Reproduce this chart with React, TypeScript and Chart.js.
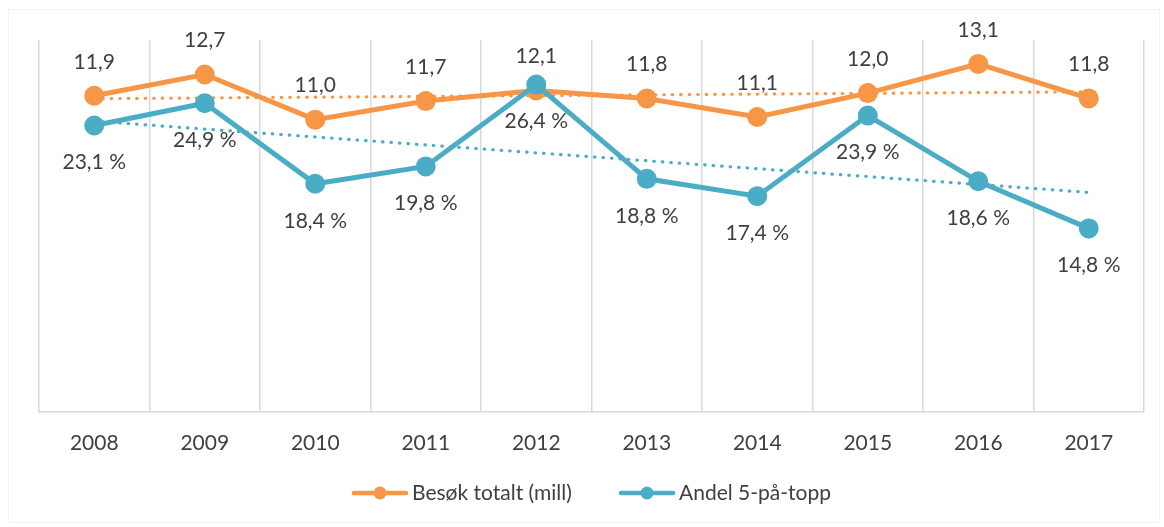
import React, { useEffect, useRef } from "react";
import { Chart, registerables } from "chart.js";

Chart.register(...registerables);

const years = ["2008", "2009", "2010", "2011", "2012", "2013", "2014", "2015", "2016", "2017"];
const besokTotalt = [11.9, 12.7, 11.0, 11.7, 12.1, 11.8, 11.1, 12.0, 13.1, 11.8];
const andel5PaTopp = [23.1, 24.9, 18.4, 19.8, 26.4, 18.8, 17.4, 23.9, 18.6, 14.8];
// Trendline end points (first and last year)
const besokTrend = [11.79, null, null, null, null, null, null, null, null, 12.05];
const andelTrend = [23.45, null, null, null, null, null, null, null, null, 17.7];

const labelBesok = "Besøk totalt (mill)";
const labelAndel = "Andel 5-på-topp";

const ORANGE = "#F79646";
const BLUE = "#4BACC6";
const TEXT = "#404040";
const GRID = "#d9d9d9";
const FONT = "Lato";
const FSIZE = 21;

const fmt = (v: number) => v.toFixed(1).replace(".", ",");

const dataLabelPlugin = {
  id: "dataLabels",
  afterDatasetsDraw(chart: any) {
    const ctx = chart.ctx;
    ctx.save();
    ctx.font = `${FSIZE}px ${FONT}`;
    ctx.fillStyle = TEXT;
    ctx.textAlign = "center";
    ctx.textBaseline = "middle";
    chart.data.datasets.forEach((ds: any, di: number) => {
      if (!ds.showLabels) return;
      const meta = chart.getDatasetMeta(di);
      meta.data.forEach((pt: any, i: number) => {
        const v = ds.data[i];
        if (v == null) return;
        const txt = fmt(v) + (ds.labelSuffix || "");
        ctx.fillText(txt, pt.x, pt.y + ds.labelOffset);
      });
    });
    ctx.restore();
  },
};

const legendPlugin = {
  id: "customLegend",
  afterDraw(chart: any) {
    const ctx = chart.ctx;
    const items = [
      { text: labelBesok, color: ORANGE, x: 352 },
      { text: labelAndel, color: BLUE, x: 619 },
    ];
    ctx.save();
    ctx.font = `${FSIZE}px ${FONT}`;
    ctx.textBaseline = "middle";
    const symW = 56;
    const gap = 4;
    const y = 493;
    items.forEach((it) => {
      const x = it.x;
      ctx.strokeStyle = it.color;
      ctx.lineWidth = 4.5;
      ctx.lineCap = "round";
      ctx.beginPath();
      ctx.moveTo(x + 2, y);
      ctx.lineTo(x + symW - 2, y);
      ctx.stroke();
      ctx.fillStyle = it.color;
      ctx.beginPath();
      ctx.arc(x + symW / 2, y, 6.5, 0, Math.PI * 2);
      ctx.fill();
      ctx.fillStyle = TEXT;
      ctx.textAlign = "left";
      ctx.fillText(it.text, x + symW + gap, y);
    });
    ctx.restore();
  },
};

export default function App() {
  const canvasRef = useRef<HTMLCanvasElement | null>(null);

  useEffect(() => {
    document.body.style.margin = "0";
    const canvas = canvasRef.current;
    if (!canvas) return;
    const chart = new Chart(canvas, {
      type: "line",
      data: {
        labels: years,
        datasets: [
          {
            label: labelAndel,
            data: andel5PaTopp,
            yAxisID: "y2",
            borderColor: BLUE,
            backgroundColor: BLUE,
            borderWidth: 5,
            pointRadius: 9,
            pointBorderWidth: 2,
            pointBorderColor: BLUE,
            pointBackgroundColor: BLUE,
            tension: 0,
            showLabels: true,
            labelOffset: 37,
            labelSuffix: " %",
          } as any,
          {
            label: labelBesok,
            data: besokTotalt,
            yAxisID: "y",
            borderColor: ORANGE,
            backgroundColor: ORANGE,
            borderWidth: 5,
            pointRadius: 9,
            pointBorderWidth: 2,
            pointBorderColor: ORANGE,
            pointBackgroundColor: ORANGE,
            tension: 0,
            showLabels: true,
            labelOffset: -34,
            labelSuffix: "",
          } as any,
          {
            label: "Trend besøk",
            data: besokTrend,
            yAxisID: "y",
            borderColor: ORANGE,
            borderWidth: 3.2,
            borderDash: [0.5, 8],
            borderCapStyle: "round",
            pointRadius: 0,
            spanGaps: true,
          } as any,
          {
            label: "Trend andel",
            data: andelTrend,
            yAxisID: "y2",
            borderColor: BLUE,
            borderWidth: 3.2,
            borderDash: [0.5, 8],
            borderCapStyle: "round",
            pointRadius: 0,
            spanGaps: true,
          } as any,
        ],
      },
      options: {
        animation: false,
        responsive: false,
        layout: { padding: { left: 39, right: 20, top: 40, bottom: 52 } },
        plugins: {
          legend: { display: false },
          tooltip: { enabled: false },
        },
        scales: {
          x: {
            offset: true,
            grid: {
              offset: true,
              color: GRID,
              lineWidth: 1.5,
              drawTicks: false,
            },
            border: { display: true, color: GRID, width: 1.5 },
            ticks: {
              padding: 19,
              color: TEXT,
              font: { family: FONT, size: FSIZE },
            },
          },
          y: { display: false, min: 0, max: 14 },
          y2: { display: false, min: 0, max: 30 },
        },
      },
      plugins: [dataLabelPlugin, legendPlugin],
    });
    return () => chart.destroy();
  }, []);

  return (
    <div style={{ position: "absolute", left: 0, top: 0, width: 1164, height: 527, background: "#fff" }}>
      <div
        style={{
          position: "absolute",
          left: 8,
          top: 9,
          width: 1150,
          height: 512,
          border: "1px solid #f3f3f3",
          pointerEvents: "none",
        }}
      />
      <canvas ref={canvasRef} width={1164} height={527} style={{ position: "absolute", left: 0, top: 0 }} />
    </div>
  );
}
